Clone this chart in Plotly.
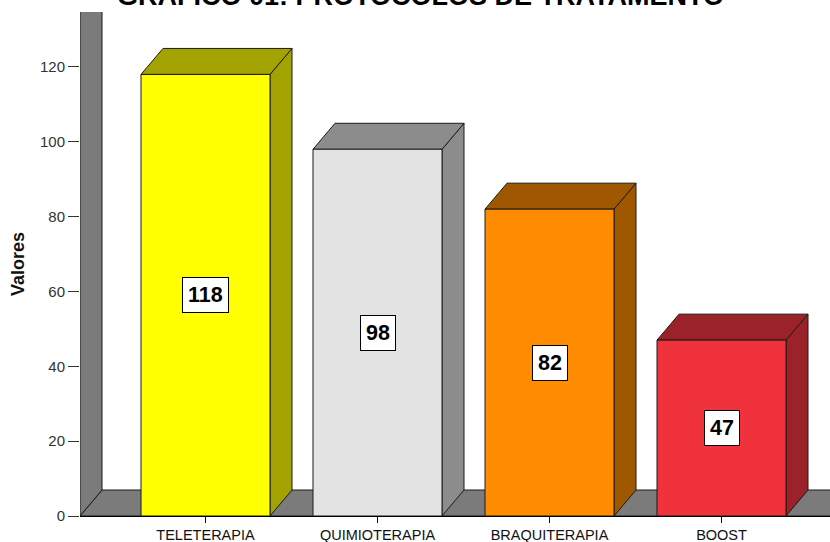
import plotly.graph_objects as go

# Data
categories = ["TELETERAPIA", "QUIMIOTERAPIA", "BRAQUITERAPIA", "BOOST"]
values = [118, 98, 82, 47]
front_colors = ["#FFFF00", "#E3E3E3", "#FF8C00", "#F0323C"]
shade_colors = ["#A3A300", "#8C8C8C", "#A05800", "#9A2228"]
y_ticks = [0, 20, 40, 60, 80, 100, 120]

title_text = "GRÁFICO 01: PROTOCOLOS DE TRATAMENTO"

# Geometry (axis units)
W, H = 830, 542
margin = dict(l=80, r=0, t=12, b=26)
px_per_cat = 172.0
px_per_val = 3.742
x_lo = -125.5 / px_per_cat
x_hi = x_lo + (W - margin["l"] - margin["r"]) / px_per_cat
y_hi = (H - margin["t"] - margin["b"]) / px_per_val
half = 0.375                 # half bar width
dx = 22.0 / px_per_cat       # depth offset along x
dy = 26.0 / px_per_val       # depth offset along y

edge = dict(color="#1a1a1a", width=1)
fig = go.Figure()


def poly(xs, ys, fill):
    fig.add_trace(go.Scatter(
        x=xs + [xs[0]], y=ys + [ys[0]], mode="lines", fill="toself",
        fillcolor=fill, line=edge, hoverinfo="skip", showlegend=False,
    ))


floor_gray = "#7B7B7B"
# Floor
poly([x_lo, x_hi + 1, x_hi + 1, x_lo + dx], [0, 0, dy, dy], floor_gray)
# Left wall
poly([x_lo, x_lo, x_lo + dx, x_lo + dx], [0, y_hi + 5, y_hi + 5, dy], floor_gray)

# Bars: side, top, front faces
for i, (v, fc, sc) in enumerate(zip(values, front_colors, shade_colors)):
    l, r = i - half, i + half
    poly([r, r + dx, r + dx, r], [0, dy, v + dy, v], sc)
    poly([l, l + dx, r + dx, r], [v, v + dy, v + dy, v], sc)
    poly([l, l, r, r], [0, v, v, 0], fc)

# Value labels in the middle of each bar
for i, v in enumerate(values):
    fig.add_annotation(
        x=i, y=v / 2, xref="x", yref="y", text=f"<b>{v}</b>", showarrow=False,
        font=dict(family="Liberation Sans, Arial", size=21.5, color="#000"),
        bgcolor="#FFFFFF", bordercolor="#000000", borderwidth=1, borderpad=5,
    )

# Title
fig.add_annotation(
    x=(420 - margin["l"]) / (W - margin["l"] - margin["r"]), y=1,
    xref="paper", yref="paper", xanchor="center", yanchor="bottom", yshift=-1,
    text=f"<b>{title_text}</b>", showarrow=False,
    font=dict(family="Liberation Sans, Arial", size=27, color="#000"),
)

fig.update_layout(
    width=W, height=H, margin=margin,
    paper_bgcolor="white", plot_bgcolor="white", showlegend=False,
    font=dict(family="Liberation Sans, Arial", color="#222"),
    xaxis=dict(
        range=[x_lo, x_hi], tickmode="array", tickvals=list(range(len(categories))),
        ticktext=categories, ticks="outside", ticklen=6, tickcolor="#000",
        showline=True, linecolor="#000", linewidth=1, showgrid=False,
        zeroline=False, automargin=False,
        tickfont=dict(family="Liberation Sans, Arial", size=14.5, color="#111"),
    ),
    yaxis=dict(
        range=[0, y_hi], tickmode="array", tickvals=y_ticks,
        ticks="outside", ticklen=11, tickcolor="#333", showline=False,
        showgrid=False, zeroline=False, automargin=False,
        tickfont=dict(size=15, color="#333"),
        title=dict(text="<b>Valores</b>", font=dict(size=18, color="#111"), standoff=10),
    ),
)

fig.write_html("out.html")
